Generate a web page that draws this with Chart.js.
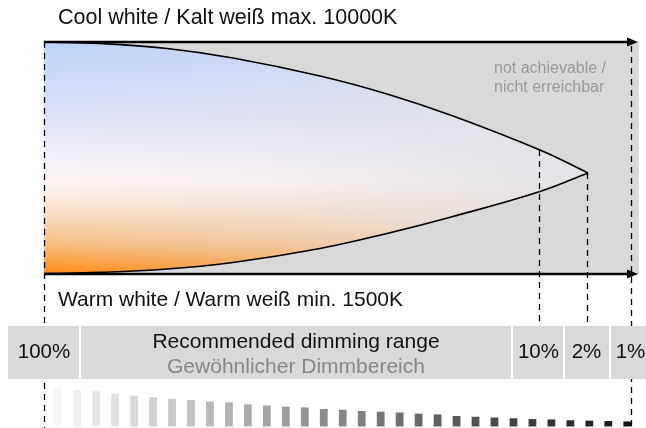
<!DOCTYPE html>
<html><head><meta charset="utf-8">
<script src="https://cdn.jsdelivr.net/npm/chart.js@4"></script>
<style>html,body{margin:0;padding:0;background:#fff;}canvas{display:block;}</style>
</head><body>
<canvas id="c" width="646" height="428"></canvas>
<script>
// ---------- data ----------
const curvePositions = [0, 0.0952, 0.2092, 0.3214, 0.4694, 0.5833, 0.6956, 0.8435, 0.9252];
const coolMaxK = [10000, 9945, 9762, 9414, 8754, 8095, 7289, 6043, 5201];
const warmMinK = [1518, 1559, 1683, 1921, 2434, 2984, 3607, 4523, 5201];
const dimLabels = ['100%', '10%', '2%', '1%'];
const dimPositions = [0, 0.8435, 0.9252, 1];
const brightnessSteps = [100, 94, 90, 84, 79, 75, 71, 68, 64, 62, 57, 54, 51, 49, 45, 43, 40, 38, 36, 33, 31, 27, 25, 23, 21, 19, 18, 16, 15, 14, 13];
const stepLabels = brightnessSteps.map((_, i) => String(i + 1));
const coolText = 'Cool white / Kalt weiß max. 10000K';
const warmText = 'Warm white / Warm weiß min. 1500K';
const naText = ['not achievable /', 'nicht erreichbar'];
const rangeText = ['Recommended dimming range', 'Gewöhnlicher Dimmbereich'];
const K_MAX = 10000, K_MIN = 1500;

// ---------- layout ----------
const W = 646, H = 428;
const PAD_L = 44, PAD_R = 14;
const TOP_PX = 42, BOT_PX = 274;
const BAR_BASE_PX = 426.5, BAR_FULL_PX = 39;
const BAND_TOP = 326, BAND_BOT = 379;
const FONT = "'Liberation Sans', Arial, Helvetica, sans-serif";

const kPerPx = (K_MAX - K_MIN) / (BOT_PX - TOP_PX);
const yMax = K_MAX + TOP_PX * kPerPx;
const yMin = K_MIN - (H - BOT_PX) * kPerPx;
const uPerPx = 100 / BAR_FULL_PX;
const ybMax = BAR_BASE_PX * uPerPx;
const ybMin = -(H - BAR_BASE_PX) * uPerPx;

let fillPattern = null;
function getFill(chart) {
  if (fillPattern) return fillPattern;
  const xs = chart.scales.x, ys = chart.scales.y;
  if (!xs || !ys || !chart.chartArea) return '#eeeeee';
  const c = document.createElement('canvas');
  c.width = chart.width; c.height = chart.height;
  const g = c.getContext('2d');
  const top = ys.getPixelForValue(K_MAX), bot = ys.getPixelForValue(K_MIN);
  const vg = g.createLinearGradient(0, top, 0, bot);
  vg.addColorStop(0, '#bdd2fb');
  vg.addColorStop(0.28, '#d9e0f7');
  vg.addColorStop(0.52, '#f6f2f7');
  vg.addColorStop(0.62, '#fdf4f2');
  vg.addColorStop(0.75, '#f9dcc0');
  vg.addColorStop(0.88, '#f7ba7c');
  vg.addColorStop(1, '#ff8a10');
  g.fillStyle = vg; g.fillRect(0, 0, c.width, c.height);
  const x0 = xs.getPixelForValue(0), x1 = xs.getPixelForValue(dimPositions[2]);
  const hg = g.createLinearGradient(x0, 0, x1, 0);
  hg.addColorStop(0, 'rgba(226,225,229,0)');
  hg.addColorStop(0.45, 'rgba(226,225,229,0.3)');
  hg.addColorStop(1, 'rgba(226,225,229,0.9)');
  g.fillStyle = hg; g.fillRect(0, 0, c.width, c.height);
  fillPattern = chart.ctx.createPattern(c, 'no-repeat');
  return fillPattern;
}

function dashed(ctx, x, y1, y2) {
  ctx.beginPath(); ctx.moveTo(x, y1); ctx.lineTo(x, y2); ctx.stroke();
}
function arrow(ctx, x0, x1, y) {
  ctx.beginPath(); ctx.moveTo(x0, y); ctx.lineTo(x1 - 8, y); ctx.stroke();
  ctx.beginPath(); ctx.moveTo(x1, y); ctx.lineTo(x1 - 11, y - 4.5); ctx.lineTo(x1 - 11, y + 4.5); ctx.closePath(); ctx.fill();
}

const diagram = {
  id: 'diagram',
  beforeDatasetsDraw(chart) {
    const { ctx, scales: { x, y } } = chart;
    const top = y.getPixelForValue(K_MAX), bot = y.getPixelForValue(K_MIN);
    const left = x.getPixelForValue(0), right = x.getPixelForValue(1) + 7;
    ctx.save();
    ctx.fillStyle = '#d9d9d9';
    ctx.fillRect(left, top, right - left, bot - top);
    ctx.restore();
  },
  afterDatasetsDraw(chart) {
    const { ctx, scales: { x, y, yb } } = chart;
    const top = y.getPixelForValue(K_MAX), bot = y.getPixelForValue(K_MIN);
    const upper = chart.getDatasetMeta(0).dataset;
    const px = dimPositions.map(p => x.getPixelForValue(p));
    const base = yb.getPixelForValue(0);
    ctx.save();
    // dashed guides
    ctx.strokeStyle = '#000'; ctx.lineWidth = 1.3; ctx.setLineDash([6, 5]);
    dashed(ctx, Math.round(px[0]) + 0.5, top, H);
    dashed(ctx, Math.round(px[3]) - 0.5, top + 4, base);
    for (let i = 1; i <= 2; i++) {
      const pt = upper.interpolate({ x: px[i] }, 'x');
      const yy = pt ? pt.y : top;
      dashed(ctx, Math.round(px[i]) - 0.5, yy, BAND_TOP);
    }
    ctx.setLineDash([]);
    // arrows
    ctx.lineWidth = 2.6; ctx.fillStyle = '#000';
    arrow(ctx, px[0], px[3] + 6, top);
    arrow(ctx, px[0], px[3] + 6, bot);
    // band
    const edges = [px[0] - 36, px[0] + 36, px[1] - 28, (px[1] + px[2]) / 2, (px[2] + px[3]) / 2, W];
    ctx.fillStyle = '#d9d9d9';
    ctx.fillRect(edges[0], BAND_TOP, edges[5] - edges[0], BAND_BOT - BAND_TOP);
    ctx.fillStyle = '#ffffff';
    for (let i = 1; i <= 4; i++) ctx.fillRect(Math.round(edges[i]) - 1, BAND_TOP, 2, BAND_BOT - BAND_TOP);
    // band labels
    ctx.textBaseline = 'middle'; ctx.textAlign = 'center';
    ctx.font = '20.5px ' + FONT; ctx.fillStyle = '#111';
    const mid = (BAND_TOP + BAND_BOT) / 2;
    ctx.fillText(dimLabels[0], px[0], mid);
    for (let i = 1; i < 4; i++) ctx.fillText(dimLabels[i], px[i] - 1.5, mid);
    ctx.font = '21px ' + FONT;
    const rc = (edges[1] + edges[2]) / 2;
    ctx.fillText(rangeText[0], rc, BAND_TOP + 16);
    ctx.fillStyle = '#888';
    ctx.fillText(rangeText[1], rc, BAND_TOP + 41);
    // titles
    ctx.font = '21.5px ' + FONT;
    ctx.textAlign = 'left'; ctx.fillStyle = '#111';
    ctx.fillText(coolText, px[0] + 14, top - 24);
    ctx.font = '21px ' + FONT;
    ctx.fillText(warmText, px[0] + 14, bot + 26);
    ctx.font = '16px ' + FONT; ctx.fillStyle = '#999';
    ctx.fillText(naText[0], px[1] - 46, top + 27);
    ctx.fillText(naText[1], px[1] - 46, top + 46);
    ctx.restore();
  }
};

const toXY = arr => arr.map((v, i) => ({ x: curvePositions[i], y: v }));

new Chart(document.getElementById('c'), {
  type: 'line',
  data: {
    datasets: [
      {
        label: 'Max (cool)', data: toXY(coolMaxK), xAxisID: 'x', yAxisID: 'y',
        borderColor: '#000', borderWidth: 1.6, pointRadius: 0, tension: 0.4,
        fill: '+1', backgroundColor: ctx => getFill(ctx.chart), clip: false, order: 1
      },
      {
        label: 'Min (warm)', data: toXY(warmMinK), xAxisID: 'x', yAxisID: 'y',
        borderColor: '#000', borderWidth: 1.6, pointRadius: 0, tension: 0.4,
        fill: false, clip: false, order: 0
      },
      {
        type: 'bar', label: 'Brightness', data: brightnessSteps, xAxisID: 'xb', yAxisID: 'yb',
        backgroundColor: c => { const n = brightnessSteps.length - 1; const g = Math.round(246 - (c.dataIndex / n) * (246 - 22)); return `rgb(${g},${g},${g})`; },
        barPercentage: 0.82, categoryPercentage: 1, clip: false, order: 2
      }
    ]
  },
  options: {
    responsive: false, animation: false, devicePixelRatio: 1, events: [],
    layout: { padding: { left: PAD_L, right: PAD_R, top: 0, bottom: 0 } },
    plugins: { legend: { display: false }, tooltip: { enabled: false } },
    scales: {
      x: { type: 'linear', min: 0, max: 1, display: false },
      xb: { type: 'category', labels: stepLabels, offset: true, display: false },
      y: { type: 'linear', min: yMin, max: yMax, display: false },
      yb: { type: 'linear', min: ybMin, max: ybMax, display: false }
    }
  },
  plugins: [diagram]
});
</script>
</body></html>
